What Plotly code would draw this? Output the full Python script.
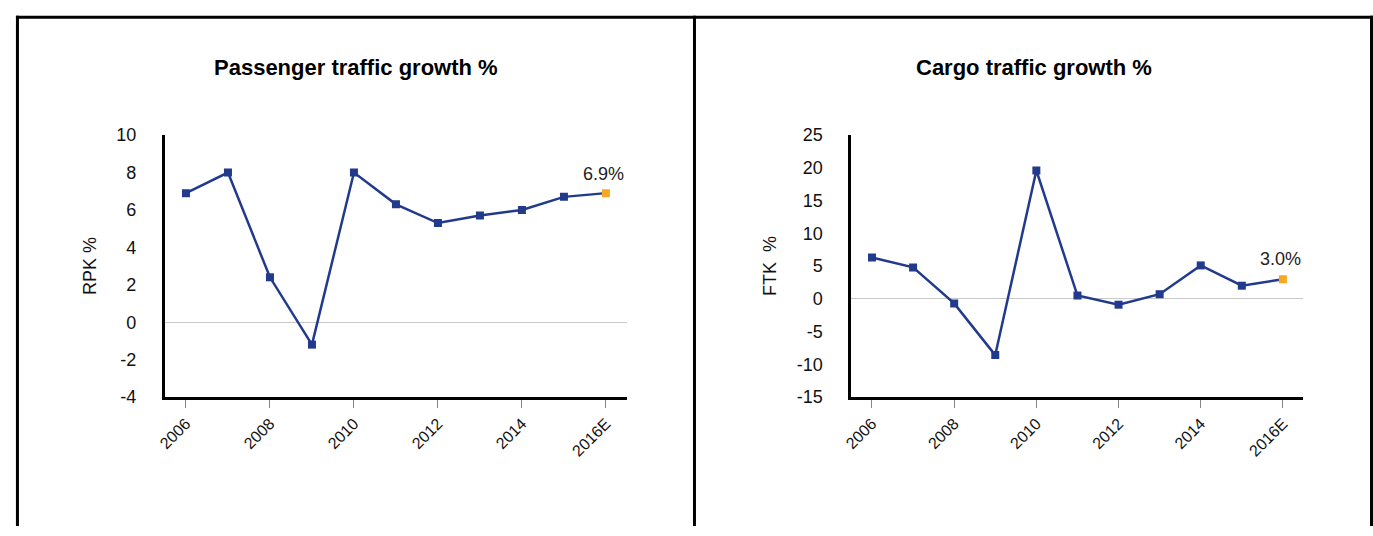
import plotly.graph_objects as go

years = ["2006", "2007", "2008", "2009", "2010", "2011", "2012", "2013", "2014", "2015", "2016E"]
tick_years = ["2006", "2008", "2010", "2012", "2014", "2016E"]
rpk = [6.9, 8.0, 2.4, -1.2, 8.0, 6.3, 5.3, 5.7, 6.0, 6.7, 6.9]
ftk = [6.3, 4.8, -0.7, -8.6, 19.6, 0.5, -0.9, 0.7, 5.1, 2.0, 3.0]
rpk_ticks = [-4, -2, 0, 2, 4, 6, 8, 10]
ftk_ticks = [-15, -10, -5, 0, 5, 10, 15, 20, 25]
titles = ["Passenger traffic growth %", "Cargo traffic growth %"]
ytitles = ["RPK %", "FTK  %"]

W, H = 1373, 536
BLUE = "#213a8c"
ORANGE = "#f7a823"
FONT = "Liberation Sans Narrow, Arial Narrow, Liberation Sans, Arial, sans-serif"

def px(x):
    return x / W

def py(y):
    return 1 - y / H

fig = go.Figure()

series = [rpk, ftk]
for i, vals in enumerate(series):
    xa = "x" if i == 0 else "x2"
    ya = "y" if i == 0 else "y2"
    fig.add_trace(go.Scatter(
        x=years, y=vals, mode="lines+markers",
        line=dict(color=BLUE, width=2.5),
        marker=dict(symbol="square", size=8,
                    color=[BLUE] * (len(vals) - 1) + [ORANGE]),
        xaxis=xa, yaxis=ya, showlegend=False, hoverinfo="skip"))

common_x = dict(type="category", categoryorder="array", categoryarray=years,
                range=[-0.5, 10.5], showline=True, linecolor="black", linewidth=3,
                ticks="outside", tickcolor="#888888", tickwidth=1, ticklen=8,
                tickvals=tick_years, ticktext=tick_years, tickangle=-45,
                showgrid=False, zeroline=False,
                tickfont=dict(family=FONT, size=16, color="#111111"))
common_y = dict(showline=True, linecolor="black", linewidth=3, ticks="",
                showgrid=False, zeroline=True, zerolinecolor="#c8c8c8", zerolinewidth=1,
                ticklabelstandoff=22,
                tickfont=dict(family=FONT, size=18, color="#111111"),
                title_font=dict(family=FONT, size=18, color="#111111"))

fig.update_layout(
    width=W, height=H, margin=dict(l=0, r=0, t=0, b=0),
    paper_bgcolor="white", plot_bgcolor="white",
    xaxis=dict(common_x, domain=[px(157), px(622)], anchor="y"),
    yaxis=dict(common_y, domain=[py(402), py(130)], anchor="x",
               range=[-4, 10], tickvals=rpk_ticks, ticktext=[str(v) for v in rpk_ticks],
               title=dict(text=ytitles[0], standoff=16)),
    xaxis2=dict(common_x, domain=[px(848), px(1303)], anchor="y2"),
    yaxis2=dict(common_y, domain=[py(402), py(130)], anchor="x2",
                range=[-15, 25], tickvals=ftk_ticks, ticktext=[str(v) for v in ftk_ticks],
                title=dict(text=ytitles[1], standoff=16)),
)

# titles
fig.add_annotation(text="<b>" + titles[0] + "</b>", x=px(349), y=py(60), xref="paper", yref="paper",
                   xanchor="center", yanchor="middle",
                   showarrow=False, font=dict(family=FONT, size=22, color="black"))
fig.add_annotation(text="<b>" + titles[1] + "</b>", x=px(1032), y=py(60), xref="paper", yref="paper",
                   xanchor="center", yanchor="middle",
                   showarrow=False, font=dict(family=FONT, size=22, color="black"))

# end-value labels
fig.add_annotation(text=f"{rpk[-1]:.1f}%", x=years[-1], y=rpk[-1], xref="x", yref="y",
                   showarrow=False, yshift=19, xshift=-2,
                   font=dict(family=FONT, size=18, color="#222222"))
fig.add_annotation(text=f"{ftk[-1]:.1f}%", x=years[-1], y=ftk[-1], xref="x2", yref="y2",
                   showarrow=False, yshift=20, xshift=-2,
                   font=dict(family=FONT, size=18, color="#222222"))

# frame
frame = dict(type="line", xref="paper", yref="paper", line=dict(color="black", width=3))
fig.add_shape(frame, x0=px(7), x1=px(1373), y0=py(7.5), y1=py(7.5))
fig.add_shape(frame, x0=px(8.5), x1=px(8.5), y0=py(6), y1=py(536))
fig.add_shape(frame, x0=px(690), x1=px(690), y0=py(6), y1=py(536))
fig.add_shape(frame, x0=px(1371.5), x1=px(1371.5), y0=py(6), y1=py(536))

fig.write_html("out.html",
               post_script="document.body.style.margin='0';document.body.style.overflow='hidden';")
